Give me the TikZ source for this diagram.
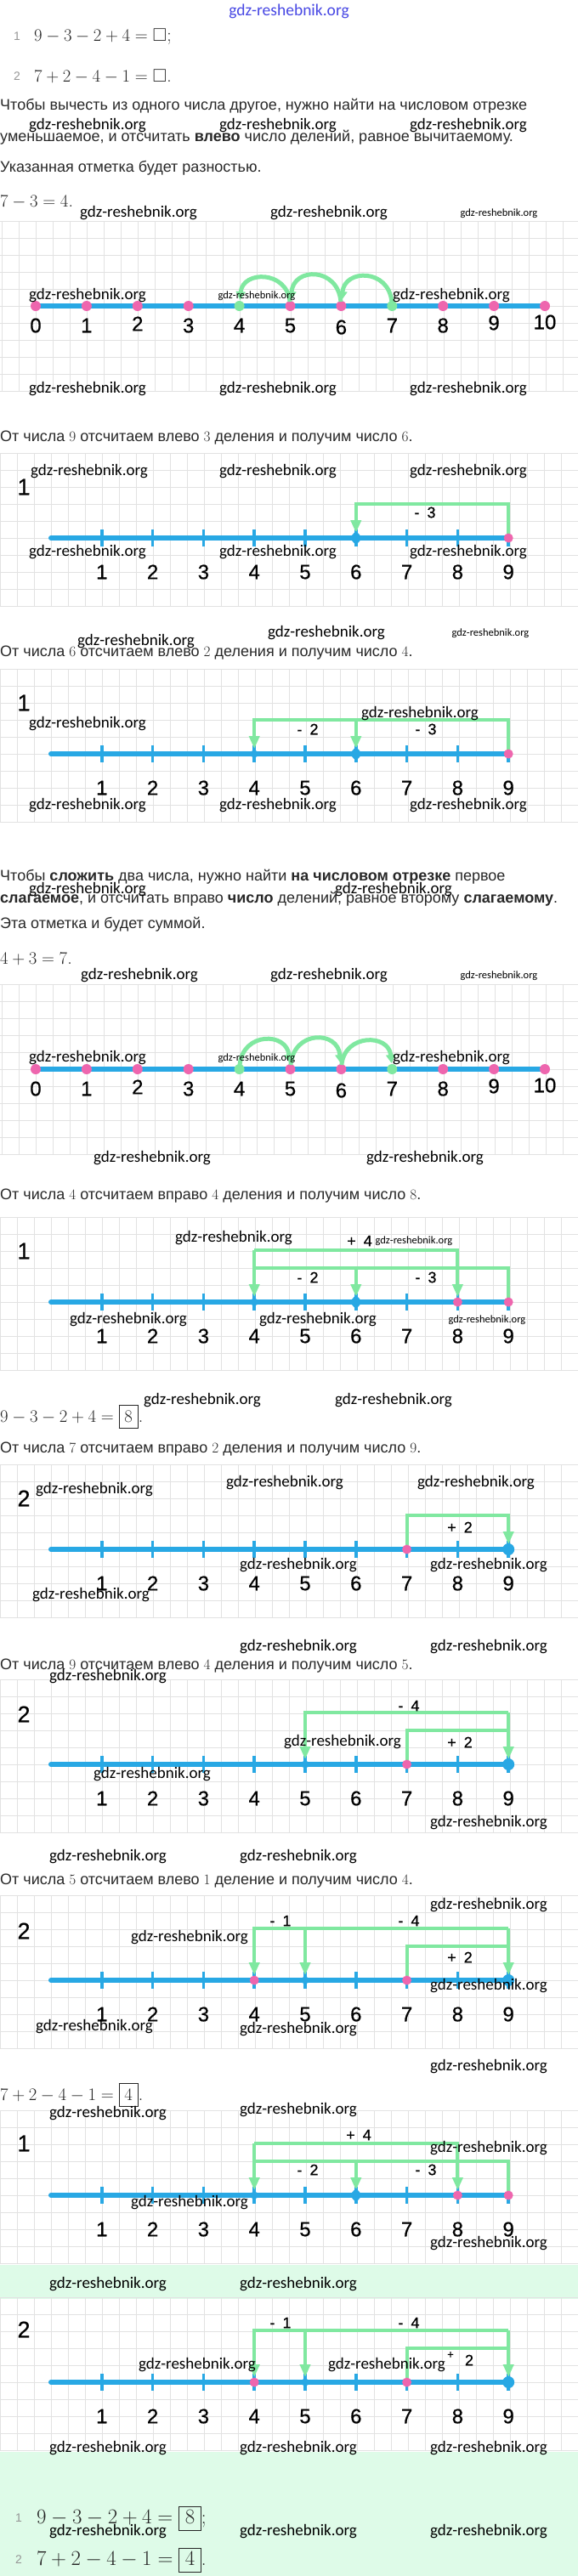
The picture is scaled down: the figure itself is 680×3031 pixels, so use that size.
\documentclass[tikz,border=0pt]{standalone}
\usepackage[no-math]{fontspec}
\usepackage{amssymb}
\usetikzlibrary{arrows.meta}
\newfontfamily\sansf{Liberation Sans}
\newfontfamily\numf[FakeBold=0.6]{Liberation Sans}
\newfontfamily\wmf{Carlito}
\definecolor{lineblue}{RGB}{40,168,228}
\definecolor{dotpink}{RGB}{238,102,174}
\definecolor{arrgreen}{RGB}{128,232,160}
\definecolor{gridgray}{RGB}{226,226,226}
\definecolor{txtgray}{RGB}{40,40,40}
\definecolor{idxgray}{RGB}{150,150,150}
\definecolor{mint}{RGB}{222,251,232}
\definecolor{wmblue}{RGB}{72,72,228}
\newcommand\ansbox[1]{{\setlength{\fboxsep}{3pt}\fbox{\rule[-0.2em]{0pt}{0.95em}$\,#1\,$}}}
\tikzset{
  txt/.style={anchor=west,inner sep=0pt,text=txtgray,font=\sansf\fontsize{18}{21}\selectfont},
  mth/.style={anchor=west,inner sep=0pt,text=black!85,font=\fontsize{22}{26}\selectfont},
  mthtop/.style={mth,font=\fontsize{21.5}{25}\selectfont},
  mthfin/.style={mth,font=\fontsize{23}{27}\selectfont},
  idx/.style={inner sep=0pt,text=idxgray,font=\sansf\fontsize{14}{16}\selectfont},
  wm/.style={inner sep=0pt,text=black,font=\wmf\fontsize{19}{22}\selectfont},
  wms/.style={inner sep=0pt,text=black,font=\wmf\fontsize{12.5}{15}\selectfont},
  num/.style={inner sep=0pt,text=black,font=\numf\fontsize{24}{28}\selectfont},
  big/.style={inner sep=0pt,text=black,font=\numf\fontsize{27}{30}\selectfont},
  op/.style={inner sep=0pt,text=black,font=\numf\fontsize{18}{20}\selectfont},
  ops/.style={inner sep=0pt,text=black,font=\numf\fontsize{13}{15}\selectfont},
  gridline/.style={draw=gridgray,line width=0.9pt},
  blueline/.style={draw=lineblue,line width=6pt,line cap=round},
  tickmark/.style={draw=lineblue,line width=3.5pt},
  gline/.style={draw=arrgreen,line width=4pt},
  garr/.style={gline,-{Triangle[length=15pt,width=12pt]},shorten >=6pt},
  garc/.style={draw=arrgreen,line width=5pt,-{Triangle[length=10pt,width=11pt]},shorten >=7pt,shorten <=5pt},
}
\newcommand\gridarea[3]{%
  \foreach \k in {0,...,34}{\draw[gridline] ({#3+\k*20},#1) -- ({#3+\k*20},#2);}%
  \pgfmathtruncatemacro\nrows{(#2-#1)/20}%
  \foreach \k in {0,...,\nrows}{\draw[gridline] (0,{#1+\k*20}) -- (680,{#1+\k*20});}%
}
\newcommand\tickline[2]{%
  \foreach \n in {0,...,9}{%
    \coordinate (#1-\n) at ({60+59.8*\n},#2);
    \coordinate (#1-\n-a) at ({60+59.8*\n},{#2-40});
    \coordinate (#1-\n-b) at ({60+59.8*\n},{#2-61});
  }%
  \draw[blueline] (#1-0) -- (#1-9);
  \foreach \n in {1,...,9}{%
    \draw[tickmark] ({60+59.8*\n},{#2-10}) -- ({60+59.8*\n},{#2+10});
    \node[num] (#1-l\n) at ({60+59.8*\n},{#2+40}) {\n};
  }%
}
\newcommand\dotline[2]{%
  \foreach \n in {0,...,10}{\coordinate (#1-\n) at ({42+59.9*\n},#2);}%
  \draw[blueline] (#1-0) -- (#1-10);
  \foreach \n in {0,1,2,3,5,6,8,9,10}{\fill[dotpink] (#1-\n) circle (6pt);}%
  \foreach \n in {4,7}{\fill[arrgreen] (#1-\n) circle (6pt);}%
  \foreach \n/\d in {0/0,1/0,2/-2,3/0,4/0,5/0,6/2,7/0,8/0,9/-3,10/-4}{%
    \node[num] (#1-l\n) at ({42+59.9*\n},{#2+23+\d}) {\n};}%
}
\newcommand\mkpink[1]{\fill[dotpink] (#1) circle (5.5pt);}
\newcommand\mkblue[1]{\fill[lineblue] (#1) circle (4.5pt);}
\newcommand\mkbig[1]{\fill[lineblue] (#1) circle (7pt);}
\newcommand\mkdia[1]{\fill[lineblue] ([yshift=8.5pt]#1) -- ([xshift=7.5pt]#1) -- ([yshift=-8.5pt]#1) -- ([xshift=-7.5pt]#1) -- cycle;}
\begin{document}
\begin{tikzpicture}[x=1pt,y=-1pt]
\useasboundingbox (0,0) rectangle (680,3031);
\fill[white] (0,0) rectangle (680,3031);
\fill[mint] (0,2665) rectangle (680,2705);
\fill[mint] (0,2885) rectangle (680,3031);

% ---------- texts ----------
\node[idx] (n1) at (20,43) {1};
\node[mthtop] (e1) at (40,43) {$9-3-2+4=\square$;};
\node[idx] (n2) at (20,90) {2};
\node[mthtop] (e2) at (40,90) {$7+2-4-1=\square$.};
\node[txt] (t1) at (0,125) {Чтобы вычесть из одного числа другое, нужно найти на числовом отрезке};
\node[txt] (t2) at (0,162) {уменьшаемое, и отсчитать \textbf{влево} число делений, равное вычитаемому.};
\node[txt] (t3) at (0,198) {Указанная отметка будет разностью.};
\node[mth] (m1) at (0,238) {$7-3=4$.};
\node[txt] (t4) at (0,515) {От числа $9$ отсчитаем влево $3$ деления и получим число $6$.};
\node[txt] (t5) at (0,768) {От числа $6$ отсчитаем влево $2$ деления и получим число $4$.};
\node[txt] (t6) at (0,1032) {Чтобы \textbf{сложить} два числа, нужно найти \textbf{на числовом отрезке} первое};
\node[txt] (t7) at (0,1058) {\textbf{слагаемое}, и отсчитать вправо \textbf{число} делений, равное второму \textbf{слагаемому}.};
\node[txt] (t8) at (0,1088) {Эта отметка и будет суммой.};
\node[mth] (m2) at (0,1128) {$4+3=7$.};
\node[txt] (t9) at (0,1407) {От числа $4$ отсчитаем вправо $4$ деления и получим число $8$.};
\node[mth] (m3) at (0,1667) {$9-3-2+4=\ansbox{8}$.};
\node[txt] (t10) at (0,1705) {От числа $7$ отсчитаем вправо $2$ деления и получим число $9$.};
\node[txt] (t11) at (0,1960) {От числа $9$ отсчитаем влево $4$ деления и получим число $5$.};
\node[txt] (t12) at (0,2213) {От числа $5$ отсчитаем влево $1$ деление и получим число $4$.};
\node[mth] (m4) at (0,2465) {$7+2-4-1=\ansbox{4}$.};
\node[idx] (n3) at (22,2963) {1};
\node[mthfin] (e3) at (43,2963) {$9-3-2+4=\ansbox{8}$;};
\node[idx] (n4) at (22,3012) {2};
\node[mthfin] (e4) at (43,3012) {$7+2-4-1=\ansbox{4}$.};

% ---------- grids ----------
\gridarea{260}{460}{2}
\gridarea{533}{713}{0}
\gridarea{787}{967}{0}
\gridarea{1158}{1358}{2}
\gridarea{1432}{1612}{0}
\gridarea{1723}{1903}{0}
\gridarea{1976}{2156}{0}
\gridarea{2230}{2410}{0}
\gridarea{2483}{2663}{0}
\gridarea{2703}{2883}{0}

% ---------- B: 7-3 ----------
\dotline{B}{360}
\draw[garc] (B-7) .. controls +(-4,-44) and +(4,-44) .. (B-6);
\draw[garc] (B-6) .. controls +(-4,-46) and +(4,-46) .. (B-5);
\draw[garc] (B-5) .. controls +(-4,-42) and +(4,-42) .. (B-4);

% ---------- C ----------
\tickline{C}{633}
\draw[garr] (C-9) -- (C-9-a) -- (C-6-a) -- (C-6);
\mkdia{C-6} \mkpink{C-9}
\node[big] (C-s) at (28,573) {1};
\node[op] (C-o1) at (500,603) {-\hspace{0.5em}3};

% ---------- D ----------
\tickline{D}{887}
\draw[garr] (D-9) -- (D-9-a) -- (D-4-a) -- (D-4);
\draw[garr] (D-6-a) -- (D-6);
\mkblue{D-4} \mkdia{D-6} \mkpink{D-9}
\node[big] (D-s) at (28,827) {1};
\node[op] (D-o1) at (362,858) {-\hspace{0.5em}2};
\node[op] (D-o2) at (501,858) {-\hspace{0.5em}3};

% ---------- E: 4+3 ----------
\dotline{E}{1258}
\draw[garc] (E-4) .. controls +(4,-44) and +(-4,-44) .. (E-5);
\draw[garc] (E-5) .. controls +(4,-46) and +(-4,-46) .. (E-6);
\draw[garc] (E-6) .. controls +(4,-42) and +(-4,-42) .. (E-7);

% ---------- G ----------
\tickline{G}{1532}
\draw[gline] (G-9) -- (G-9-a) -- (G-4-a);
\draw[garr] (G-6-a) -- (G-6);
\draw[garr] (G-4-b) -- (G-4);
\draw[garr] (G-4-b) -- (G-8-b) -- (G-8);
\mkblue{G-4} \mkdia{G-6} \mkpink{G-8} \mkpink{G-9}
\node[big] (G-s) at (28,1472) {1};
\node[op] (G-o0) at (423,1460) {+\hspace{0.5em}4};
\node[op] (G-o1) at (362,1503) {-\hspace{0.5em}2};
\node[op] (G-o2) at (501,1503) {-\hspace{0.5em}3};

% ---------- H ----------
\tickline{H}{1823}
\draw[garr] (H-7) -- (H-7-a) -- (H-9-a) -- (H-9);
\mkpink{H-7} \mkbig{H-9}
\node[big] (H-s) at (28,1763) {2};
\node[op] (H-o1) at (541,1797) {+\hspace{0.5em}2};

% ---------- I ----------
\tickline{I}{2076}
\draw[garr] (I-9-b) -- (I-9);
\draw[gline] (I-7) -- (I-7-a) -- (I-9-a);
\draw[garr] (I-9-b) -- (I-5-b) -- (I-5);
\mkblue{I-5} \mkpink{I-7} \mkbig{I-9}
\node[big] (I-s) at (28,2017) {2};
\node[op] (I-o1) at (481,2007) {-\hspace{0.5em}4};
\node[op] (I-o2) at (541,2050) {+\hspace{0.5em}2};

% ---------- J ----------
\tickline{J}{2330}
\draw[garr] (J-9-b) -- (J-9);
\draw[gline] (J-7) -- (J-7-a) -- (J-9-a);
\draw[garr] (J-9-b) -- (J-4-b) -- (J-4);
\draw[garr] (J-5-b) -- (J-5);
\mkpink{J-4} \mkblue{J-5} \mkpink{J-7} \mkbig{J-9}
\node[big] (J-s) at (28,2272) {2};
\node[op] (J-o1) at (330,2260) {-\hspace{0.5em}1};
\node[op] (J-o2) at (481,2260) {-\hspace{0.5em}4};
\node[op] (J-o3) at (541,2303) {+\hspace{0.5em}2};

% ---------- K ----------
\tickline{K}{2583}
\draw[gline] (K-9) -- (K-9-a) -- (K-4-a);
\draw[garr] (K-6-a) -- (K-6);
\draw[garr] (K-4-b) -- (K-4);
\draw[garr] (K-4-b) -- (K-8-b) -- (K-8);
\mkblue{K-4} \mkdia{K-6} \mkpink{K-8} \mkpink{K-9}
\node[big] (K-s) at (28,2522) {1};
\node[op] (K-o0) at (422,2512) {+\hspace{0.5em}4};
\node[op] (K-o1) at (362,2553) {-\hspace{0.5em}2};
\node[op] (K-o2) at (501,2553) {-\hspace{0.5em}3};

% ---------- L ----------
\tickline{L}{2803}
\draw[garr] (L-9-b) -- (L-9);
\draw[gline] (L-7) -- (L-7-a) -- (L-9-a);
\draw[garr] (L-9-b) -- (L-4-b) -- (L-4);
\draw[garr] (L-5-b) -- (L-5);
\mkpink{L-4} \mkblue{L-5} \mkpink{L-7} \mkbig{L-9}
\node[big] (L-s) at (28,2741) {2};
\node[op] (L-o1) at (330,2733) {-\hspace{0.5em}1};
\node[op] (L-o2) at (481,2733) {-\hspace{0.5em}4};
\node[ops] (L-o3) at (530,2771) {+};
\node[op] (L-o4) at (552,2777) {2};

% ---------- watermarks ----------
\node[wm,text=wmblue,font=\wmf\fontsize{19.5}{22}\selectfont] (wm0) at (340,13) {gdz-reshebnik.org};
\foreach \x/\y [count=\i] in {103/148,327/148,551/148,163/251,387/251,
  103/348,531/348,103/458,327/458,551/458,
  105/555,327/555,551/555,103/650,327/650,551/650,384/745,160/755,
  494/840,103/852,103/948,327/948,551/948,
  103/1047,463/1047,164/1148,387/1148,103/1245,531/1245,
  179/1363,500/1363,275/1457,
  151/1553,374/1553,238/1648,463/1648,
  111/1753,335/1745,560/1745,351/1842,575/1842,107/1877,351/1938,575/1938,
  127/1973,403/2050,179/2088,575/2145,127/2185,351/2185,
  575/2242,223/2280,575/2337,111/2385,351/2388,575/2432,
  127/2487,351/2483,575/2528,223/2592,575/2640,127/2688,351/2688,
  232/2783,455/2783,127/2880,351/2880,575/2880,127/2978,351/2978,575/2978}
  {\node[wm] (wm\i) at (\x,\y) {gdz-reshebnik.org};}
\foreach \x/\y [count=\i] in {587/251,302/348,577/745,587/1148,302/1245,487/1460,573/1553}
  {\node[wms] (ws\i) at (\x,\y) {gdz-reshebnik.org};}
\end{tikzpicture}
\end{document}
